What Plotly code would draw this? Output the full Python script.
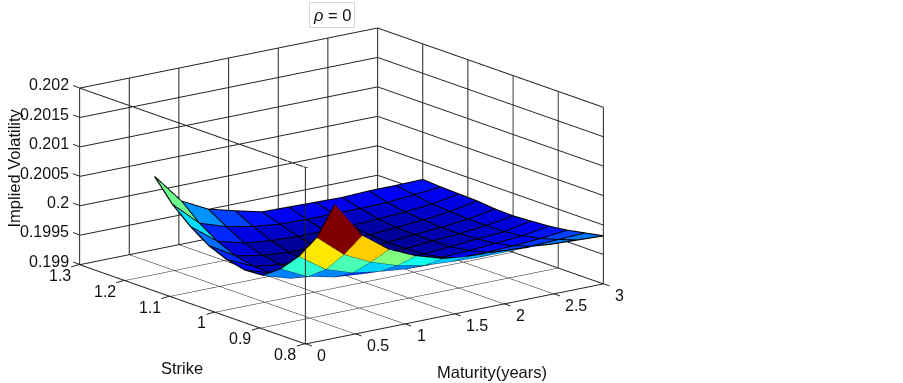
import plotly.graph_objects as go

maturity = [0.3, 0.57, 0.84, 1.11, 1.38, 1.65, 1.92, 2.19, 2.46, 2.73, 3.0]
strike = [0.8, 0.84, 0.88, 0.92, 0.96, 1.0, 1.04, 1.08, 1.12, 1.16, 1.2]
# one row per maturity, one value per strike
iv_t030 = [.20127, .20060, .20017, .19985, .19963, .19961, .19968, .19981, .20002, .20029, .20066]
iv_t057 = [.20065, .20022, .19986, .19963, .19949, .19946, .19947, .19954, .19968, .19988, .20015]
iv_t084 = [.20032, .20000, .19971, .19953, .19944, .19939, .19941, .19946, .19956, .19973, .19992]
iv_t111 = [.20012, .19985, .19964, .19949, .19941, .19937, .19937, .19942, .19951, .19964, .19980]
iv_t138 = [.19998, .19976, .19959, .19947, .19941, .19937, .19939, .19942, .19949, .19959, .19969]
iv_t165 = [.19993, .19973, .19958, .19947, .19942, .19939, .19939, .19942, .19949, .19958, .19968]
iv_t192 = [.19991, .19971, .19958, .19949, .19944, .19942, .19942, .19944, .19949, .19958, .19967]
iv_t219 = [.19988, .19971, .19959, .19951, .19947, .19946, .19946, .19947, .19951, .19958, .19966]
iv_t246 = [.19985, .19971, .19961, .19954, .19951, .19949, .19949, .19951, .19954, .19959, .19968]
iv_t273 = [.19983, .19973, .19964, .19958, .19954, .19954, .19954, .19956, .19958, .19963, .19968]
iv_t300 = [.19981, .19975, .19969, .19965, .19963, .19961, .19962, .19965, .19966, .19967, .19969]
iv = [iv_t030, iv_t057, iv_t084, iv_t111, iv_t138, iv_t165, iv_t192, iv_t219, iv_t246, iv_t273, iv_t300]

x_ticks = [0, 0.5, 1, 1.5, 2, 2.5, 3]
x_labels = ["0", "0.5", "1", "1.5", "2", "2.5", "3"]
y_ticks = [0.8, 0.9, 1.0, 1.1, 1.2, 1.3]
y_labels = ["0.8", "0.9", "1", "1.1", "1.2", "1.3"]
z_ticks = [0.199, 0.1995, 0.2, 0.2005, 0.201, 0.2015, 0.202]
z_labels = ["0.199", "0.1995", "0.2", "0.2005", "0.201", "0.2015", "0.202"]
x_range = [0, 3]
y_range = [0.8, 1.3]
z_range = [0.199, 0.202]


def jet(t):
    t = max(0.0, min(1.0, t))
    r = min(1.0, max(0.0, min(4 * t - 1.5, -4 * t + 4.5)))
    g = min(1.0, max(0.0, min(4 * t - 0.5, -4 * t + 3.5)))
    b = min(1.0, max(0.0, min(4 * t + 0.5, -4 * t + 2.5)))
    return f"rgb({round(r*255)},{round(g*255)},{round(b*255)})"


nt, ns = len(maturity), len(strike)
vx, vy, vz = [], [], []
for i in range(nt):
    for j in range(ns):
        vx.append(maturity[i])
        vy.append(strike[j])
        vz.append(iv[i][j])
zmin = min(vz)
zmax = max(vz)
I, J, K, FC = [], [], [], []
for i in range(nt - 1):
    for j in range(ns - 1):
        a = i * ns + j
        b = (i + 1) * ns + j
        c = (i + 1) * ns + j + 1
        d = i * ns + j + 1
        col = jet((iv[i][j] - zmin) / (zmax - zmin))
        I += [a, a]
        J += [b, c]
        K += [c, d]
        FC += [col, col]

fig = go.Figure()
fig.add_trace(go.Mesh3d(
    x=vx, y=vy, z=vz, i=I, j=J, k=K, facecolor=FC, flatshading=True,
    lighting=dict(ambient=1, diffuse=0, specular=0, roughness=1, fresnel=0),
    showscale=False, hoverinfo="skip"))


def line3d(xs, ys, zs, color="#111111", width=2.5):
    fig.add_trace(go.Scatter3d(x=xs, y=ys, z=zs, mode="lines",
                               line=dict(color=color, width=width), hoverinfo="skip", showlegend=False))


# mesh edges, lifted a hair so the facets do not hide them
lift = 6e-6
for i in range(nt):
    line3d([maturity[i]] * ns, strike, [v + lift for v in iv[i]], "#000000")
for j in range(ns):
    line3d(maturity, [strike[j]] * nt, [iv[i][j] + lift for i in range(nt)], "#000000")

# axes box edges
for a in y_range:
    for b in z_range:
        line3d(x_range, [a, a], [b, b], "#222222", 2)
for a in x_range:
    for b in z_range:
        line3d([a, a], y_range, [b, b], "#222222", 2)
for a in x_range:
    for b in y_range:
        line3d([a, a], [b, b], z_range, "#222222", 2)

tick_font = dict(family="Liberation Sans, Arial, sans-serif", size=16, color="#111111")
title_font = dict(family="Liberation Sans, Arial, sans-serif", size=16.5, color="#111111")


def axis(rng, vals):
    return dict(range=rng, tickmode="array", tickvals=vals, title=dict(text=""),
                showticklabels=False, ticks="",
                showgrid=True, gridcolor="#222222", gridwidth=2, zeroline=False,
                showbackground=False, showline=True, linecolor="#222222", linewidth=2,
                showspikes=False)


def note(text, px, py, font=title_font, **kw):
    return dict(text=text, x=px / 903, y=1 - py / 383, xref="paper", yref="paper", showarrow=False,
                xanchor="center", yanchor="middle", font=font, **kw)


def tick(x, y, z, text, ax, ay, xanchor, xshift, yshift):
    mark = dict(x=x, y=y, z=z, text="", showarrow=True, arrowhead=0, arrowwidth=1, arrowcolor="#222222",
                ax=ax, ay=ay, standoff=0, startstandoff=0)
    label = dict(x=x, y=y, z=z, text=text, showarrow=False, font=tick_font, xanchor=xanchor, yanchor="middle",
                 xshift=xshift, yshift=yshift)
    return [mark, label]


scene_notes = []
for v, t in zip(x_ticks, x_labels):
    scene_notes += tick(v, y_range[0], z_range[0], t, 8, 3, "left", 10, -12)
for v, t in zip(y_ticks, y_labels):
    scene_notes += tick(x_range[0], v, z_range[0], t, -10, 3, "right", -7, -11)
for v, t in zip(z_ticks, z_labels):
    scene_notes += tick(x_range[0], y_range[1], v, t, -8, -3, "right", -9, 3)

k = 3.0
fig.update_layout(
    width=903, height=383, margin=dict(l=0, r=0, t=0, b=0),
    paper_bgcolor="white", showlegend=False,
    scene=dict(
        domain=dict(x=[0, 0.756], y=[0.03, 1]),
        xaxis=axis(x_range, x_ticks),
        yaxis=axis(y_range, y_ticks),
        zaxis=axis([z_range[0], z_range[1] + 1e-8], z_ticks),
        aspectmode="manual", aspectratio=dict(x=2.01, y=2.01, z=0.985),
        camera=dict(eye=dict(x=-0.582 * k, y=-0.768 * k, z=0.266 * k),
                    center=dict(x=0, y=0, z=0), up=dict(x=0, y=0, z=1),
                    projection=dict(type="orthographic")),
        annotations=scene_notes,
    ),
    annotations=[
        note("<i>ρ</i> = 0", 332, 14.5, bordercolor="#d9d9d0", borderwidth=1, borderpad=3),
        note("Strike", 181.5, 367.5),
        note("Maturity(years)", 491.5, 371.5),
        note("Implied Volatility", 13.5, 168, textangle=-90),
    ],
)
fig.write_html("out.html", config={"displayModeBar": False},
               post_script="document.body.style.margin='0';document.documentElement.style.overflow='hidden';")
